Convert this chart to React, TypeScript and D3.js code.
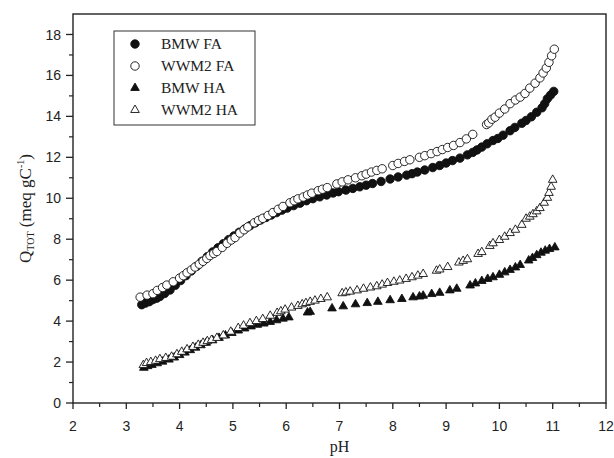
import { scaleLinear, symbol, symbolCircle, symbolTriangle, range } from 'd3'

const width = 614,
      height = 458,
      margin = { top: 14, right: 8, bottom: 55, left: 73 },
      innerWidth = width - margin.left - margin.right,
      innerHeight = height - margin.top - margin.bottom

// pH values and Q_TOT (meq gC-1)
const bmwFaPh = [3.29, 3.36, 3.43, 3.50, 3.57, 3.63, 3.72, 3.82, 3.92, 4.02, 4.12, 4.22, 4.32, 4.42, 4.52, 4.62, 4.72, 4.82, 4.92, 5.02,
  5.12, 5.22, 5.32, 5.42, 5.52, 5.62, 5.72, 5.82, 5.92, 6.02, 6.14, 6.26, 6.38, 6.50, 6.63, 6.76, 6.88, 6.98, 7.12, 7.25,
  7.38, 7.50, 7.62, 7.78, 7.95, 8.10, 8.26, 8.36, 8.46, 8.60, 8.75, 8.88, 9.00, 9.12, 9.26, 9.40, 9.50, 9.58, 9.67, 9.77,
  9.88, 9.97, 10.07, 10.20, 10.29, 10.42, 10.50, 10.60, 10.70, 10.80, 10.85, 10.90, 10.96, 11.02]
const bmwFaQ = [4.80, 4.88, 4.95, 5.05, 5.12, 5.20, 5.35, 5.52, 5.75, 5.98, 6.22, 6.45, 6.68, 6.92, 7.15, 7.38, 7.58, 7.78, 7.98, 8.16,
  8.34, 8.50, 8.66, 8.80, 8.94, 9.06, 9.18, 9.30, 9.42, 9.52, 9.64, 9.76, 9.88, 9.98, 10.07, 10.16, 10.26, 10.32, 10.40, 10.48,
  10.56, 10.64, 10.72, 10.82, 10.94, 11.04, 11.13, 11.20, 11.28, 11.38, 11.50, 11.60, 11.72, 11.84, 11.96, 12.12, 12.24, 12.36, 12.50, 12.66,
  12.82, 12.92, 13.08, 13.30, 13.46, 13.66, 13.80, 13.98, 14.20, 14.42, 14.62, 14.86, 15.04, 15.22]

const wwmFaPh = [3.26, 3.39, 3.50, 3.58, 3.68, 3.76, 3.88, 4.00, 4.07, 4.14, 4.22, 4.29, 4.37, 4.44, 4.51, 4.57, 4.64, 4.70, 4.80, 4.89,
  4.97, 5.04, 5.13, 5.21, 5.28, 5.40, 5.48, 5.56, 5.66, 5.75, 5.85, 5.94, 6.07, 6.15, 6.22, 6.32, 6.40, 6.48, 6.60, 6.68,
  6.77, 6.95, 7.05, 7.16, 7.30, 7.42, 7.50, 7.60, 7.70, 7.80, 8.00, 8.10, 8.22, 8.32, 8.50, 8.60, 8.72, 8.83, 8.93, 9.03,
  9.14, 9.26, 9.38, 9.50, 9.76, 9.80, 9.86, 9.92, 10.00, 10.10, 10.20, 10.30, 10.39, 10.48, 10.57, 10.67, 10.76, 10.82, 10.88, 10.93,
  10.98, 11.03]
const wwmFaQ = [5.17, 5.27, 5.34, 5.50, 5.64, 5.76, 5.92, 6.10, 6.22, 6.36, 6.50, 6.64, 6.78, 6.92, 7.06, 7.20, 7.30, 7.40, 7.60, 7.80,
  7.96, 8.08, 8.30, 8.46, 8.60, 8.80, 8.92, 9.02, 9.16, 9.30, 9.46, 9.60, 9.78, 9.88, 9.97, 10.06, 10.16, 10.25, 10.37, 10.44,
  10.52, 10.70, 10.80, 10.90, 11.00, 11.10, 11.18, 11.28, 11.36, 11.44, 11.60, 11.70, 11.80, 11.88, 12.00, 12.08, 12.18, 12.28, 12.38, 12.48,
  12.58, 12.72, 12.90, 13.12, 13.60, 13.68, 13.86, 13.96, 14.16, 14.36, 14.62, 14.80, 14.94, 15.12, 15.38, 15.62, 15.88, 16.12, 16.36, 16.64,
  16.96, 17.28]

const bmwHaPh = [3.33, 3.40, 3.48, 3.58, 3.68, 3.80, 3.90, 4.00, 4.10, 4.20, 4.30, 4.40, 4.50, 4.62, 4.74, 4.86, 4.98, 5.10, 5.22, 5.34,
  5.46, 5.58, 5.70, 5.82, 5.94, 6.05, 6.40, 6.45, 6.86, 7.07, 7.30, 7.52, 7.72, 7.95, 8.17, 8.38, 8.50, 8.57, 8.73, 8.88,
  9.07, 9.20, 9.45, 9.55, 9.67, 9.78, 9.88, 10.00, 10.10, 10.20, 10.30, 10.39, 10.55, 10.62, 10.70, 10.78, 10.86, 10.94, 11.04]
const bmwHaQ = [1.72, 1.80, 1.86, 1.94, 2.02, 2.12, 2.22, 2.34, 2.46, 2.58, 2.70, 2.82, 2.94, 3.06, 3.18, 3.30, 3.42, 3.54, 3.64, 3.74,
  3.82, 3.88, 3.96, 4.04, 4.12, 4.18, 4.42, 4.45, 4.62, 4.72, 4.82, 4.88, 4.94, 5.02, 5.08, 5.16, 5.20, 5.24, 5.32, 5.38,
  5.50, 5.58, 5.74, 5.84, 5.96, 6.06, 6.14, 6.26, 6.38, 6.50, 6.62, 6.74, 6.96, 7.08, 7.22, 7.34, 7.44, 7.52, 7.60]

const wwmHaPh = [3.32, 3.38, 3.46, 3.55, 3.63, 3.74, 3.85, 3.95, 4.04, 4.14, 4.25, 4.35, 4.44, 4.52, 4.60, 4.70, 4.82, 4.96, 5.10, 5.20,
  5.32, 5.44, 5.56, 5.70, 5.83, 5.90, 5.98, 6.10, 6.22, 6.30, 6.37, 6.45, 6.54, 6.65, 6.77, 7.05, 7.12, 7.20, 7.33, 7.45,
  7.58, 7.70, 7.80, 7.90, 8.02, 8.13, 8.25, 8.36, 8.47, 8.57, 8.82, 8.88, 9.03, 9.24, 9.32, 9.40, 9.60, 9.67, 9.82, 9.88,
  10.00, 10.10, 10.20, 10.30, 10.42, 10.50, 10.57, 10.63, 10.70, 10.76, 10.84, 10.90, 10.93, 10.97, 11.00]
const wwmHaQ = [1.85, 1.95, 2.00, 2.06, 2.14, 2.20, 2.26, 2.38, 2.50, 2.62, 2.74, 2.84, 2.94, 3.02, 3.08, 3.18, 3.30, 3.48, 3.66, 3.78,
  3.90, 4.00, 4.10, 4.26, 4.40, 4.48, 4.56, 4.66, 4.74, 4.82, 4.88, 4.94, 5.00, 5.08, 5.16, 5.36, 5.40, 5.44, 5.50, 5.58,
  5.64, 5.70, 5.78, 5.86, 5.92, 5.98, 6.06, 6.14, 6.22, 6.30, 6.46, 6.52, 6.64, 6.86, 6.94, 7.02, 7.28, 7.37, 7.67, 7.80,
  7.96, 8.12, 8.30, 8.46, 8.70, 9.00, 9.10, 9.22, 9.36, 9.52, 9.78, 10.02, 10.26, 10.56, 10.90]

const seriesNames = ['BMW FA', 'WWM2 FA', 'BMW HA', 'WWM2 HA']
const xTicks = range(2, 13, 1)
const yTicks = range(0, 19, 2)

const circlePath = symbol().type(symbolCircle).size(56)()
const trianglePath = symbol().type(symbolTriangle).size(32)()

const series = [
  { name: seriesNames[0], ph: bmwFaPh, q: bmwFaQ, d: circlePath, fill: '#111' },
  { name: seriesNames[1], ph: wwmFaPh, q: wwmFaQ, d: circlePath, fill: '#fff' },
  { name: seriesNames[2], ph: bmwHaPh, q: bmwHaQ, d: trianglePath, fill: '#111' },
  { name: seriesNames[3], ph: wwmHaPh, q: wwmHaQ, d: trianglePath, fill: '#fff' }
]
// filled markers first, open ones on top
const drawOrder = [0, 2, 1, 3]

export default function App() {
  const x = scaleLinear().domain([2, 12]).range([0, innerWidth])
  const y = scaleLinear().domain([0, 19]).range([innerHeight, 0])

  const xMinor = range(2.5, 12, 1)
  const yMinor = range(1, 19, 2)

  return (
    <svg width={width} height={height} style={{ position: 'absolute', left: 0, top: 0, background: '#fff' }}>
      <g transform={`translate(${margin.left}, ${margin.top})`}>
        {drawOrder.map(si => {
          const s = series[si]
          return (
            <g key={s.name}>
              {s.ph.map((p, i) => (
                <path key={i} d={s.d} transform={`translate(${x(p)}, ${y(s.q[i])})`}
                  fill={s.fill} stroke='#111' strokeWidth={0.9} />
              ))}
            </g>
          )
        })}

        <rect x={0} y={0} width={innerWidth} height={innerHeight} fill='none' stroke='#222' strokeWidth={1.4} />

        {xTicks.map(t => (
          <g key={'x' + t} transform={`translate(${x(t)}, ${innerHeight})`}>
            <line y2={6} stroke='#222' strokeWidth={1.3} />
            <text y={28} textAnchor='middle' fontFamily='Liberation Sans, Arial' fontSize={14} fill='#222'>{t}</text>
          </g>
        ))}
        {xMinor.map(t => (
          <line key={'xm' + t} x1={x(t)} x2={x(t)} y1={innerHeight} y2={innerHeight + 4} stroke='#222' strokeWidth={1.2} />
        ))}

        {yTicks.map(t => (
          <g key={'y' + t} transform={`translate(0, ${y(t)})`}>
            <line x2={-7} stroke='#222' strokeWidth={1.3} />
            <text x={-12} dy='0.36em' textAnchor='end' fontFamily='Liberation Sans, Arial' fontSize={14} fill='#222'>{t}</text>
          </g>
        ))}
        {yMinor.map(t => (
          <line key={'ym' + t} y1={y(t)} y2={y(t)} x1={0} x2={-4} stroke='#222' strokeWidth={1.2} />
        ))}

        <text x={innerWidth / 2} y={innerHeight + 49} textAnchor='middle' fontFamily='Liberation Serif, Times New Roman' fontSize={16} fill='#222'>pH</text>

        <text transform={`translate(-42, ${innerHeight / 2}) rotate(-90)`} textAnchor='middle'
          fontFamily='Liberation Serif, Times New Roman' fontSize={17} fill='#222'>
          Q<tspan fontSize={10} dy={3}>TOT</tspan><tspan dy={-3}> (meq gC</tspan><tspan fontSize={10} dy={-7}>-1</tspan><tspan dy={7}>)</tspan>
        </text>

        <g transform='translate(41, 17)'>
          <rect x={0} y={0} width={141} height={94} fill='#fff' stroke='#333' strokeWidth={1} />
          {series.map((s, i) => (
            <g key={s.name} transform={`translate(0, ${13 + i * 22})`}>
              <path d={s.d} transform='translate(21, 0)' fill={s.fill} stroke='#111' strokeWidth={0.9} />
              <text x={47} dy='0.35em' fontFamily='Liberation Serif, Times New Roman' fontSize={15.5} fill='#222'>{s.name}</text>
            </g>
          ))}
        </g>
      </g>
    </svg>
  )
}
